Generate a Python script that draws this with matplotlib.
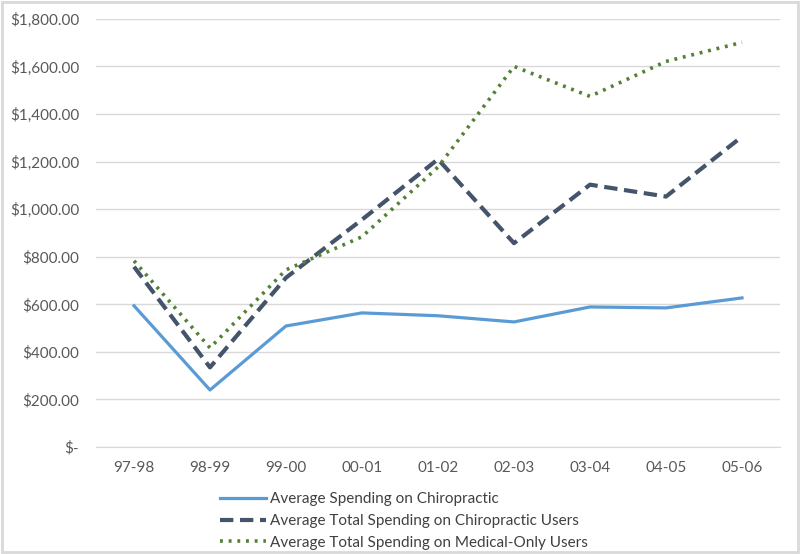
import matplotlib.pyplot as plt
from matplotlib.ticker import FuncFormatter
from matplotlib.patches import Rectangle

plt.rcParams['font.family'] = ['Lato', 'DejaVu Sans']

years = ['97-98', '98-99', '99-00', '00-01', '01-02', '02-03', '03-04', '04-05', '05-06']
chiro = [594, 240, 509, 564, 552, 526, 589, 585, 627]
chiro_users = [758, 335, 712, 956, 1210, 857, 1103, 1053, 1305]
medical_only = [783, 417, 745, 884, 1177, 1600, 1474, 1621, 1701]

fig = plt.figure(figsize=(8, 5.54), dpi=100)
ax = fig.add_axes([0.12, 0.193, 0.855, 0.773])

x = range(len(years))
ax.plot(x, chiro, color='#5B9BD5', lw=2.3, label='Average Spending on Chiropractic')
ax.plot(x, chiro_users, color='#44546A', lw=3, dashes=(3.2, 1.6), label='Average Total Spending on Chiropractic Users')
ax.plot(x, medical_only, color='#548235', lw=2.6, dashes=(0.8, 1.6), label='Average Total Spending on Medical-Only Users')

ax.set_xlim(-0.5, len(years) - 0.5)
ax.set_ylim(0, 1800)
ax.set_yticks(range(0, 1801, 200))
ax.yaxis.set_major_formatter(FuncFormatter(lambda v, p: '$-' if v == 0 else f'${v:,.2f}'))
ax.set_xticks(list(x))
ax.set_xticklabels(years)
ax.grid(axis='y', color='#D9D9D9', lw=1)
ax.set_axisbelow(True)
for s in ['top', 'right', 'left']:
    ax.spines[s].set_visible(False)
ax.spines['bottom'].set_color('#D9D9D9')
ax.tick_params(length=0, labelsize=11, colors='#595959', pad=10)
ax.tick_params(axis='y', pad=12)

fig.legend(loc='upper center', bbox_to_anchor=(0.505, 0.125), frameon=False, ncol=1,
           fontsize=11, labelcolor='#404040', handlelength=3.0, handletextpad=0.3,
           labelspacing=0.5, borderpad=0)

fig.patches.append(Rectangle((0.002, 0.003), 0.996, 0.994, transform=fig.transFigure,
                             fill=False, edgecolor='#D9D9D9', lw=2))
fig.savefig('out.png', dpi=100)
